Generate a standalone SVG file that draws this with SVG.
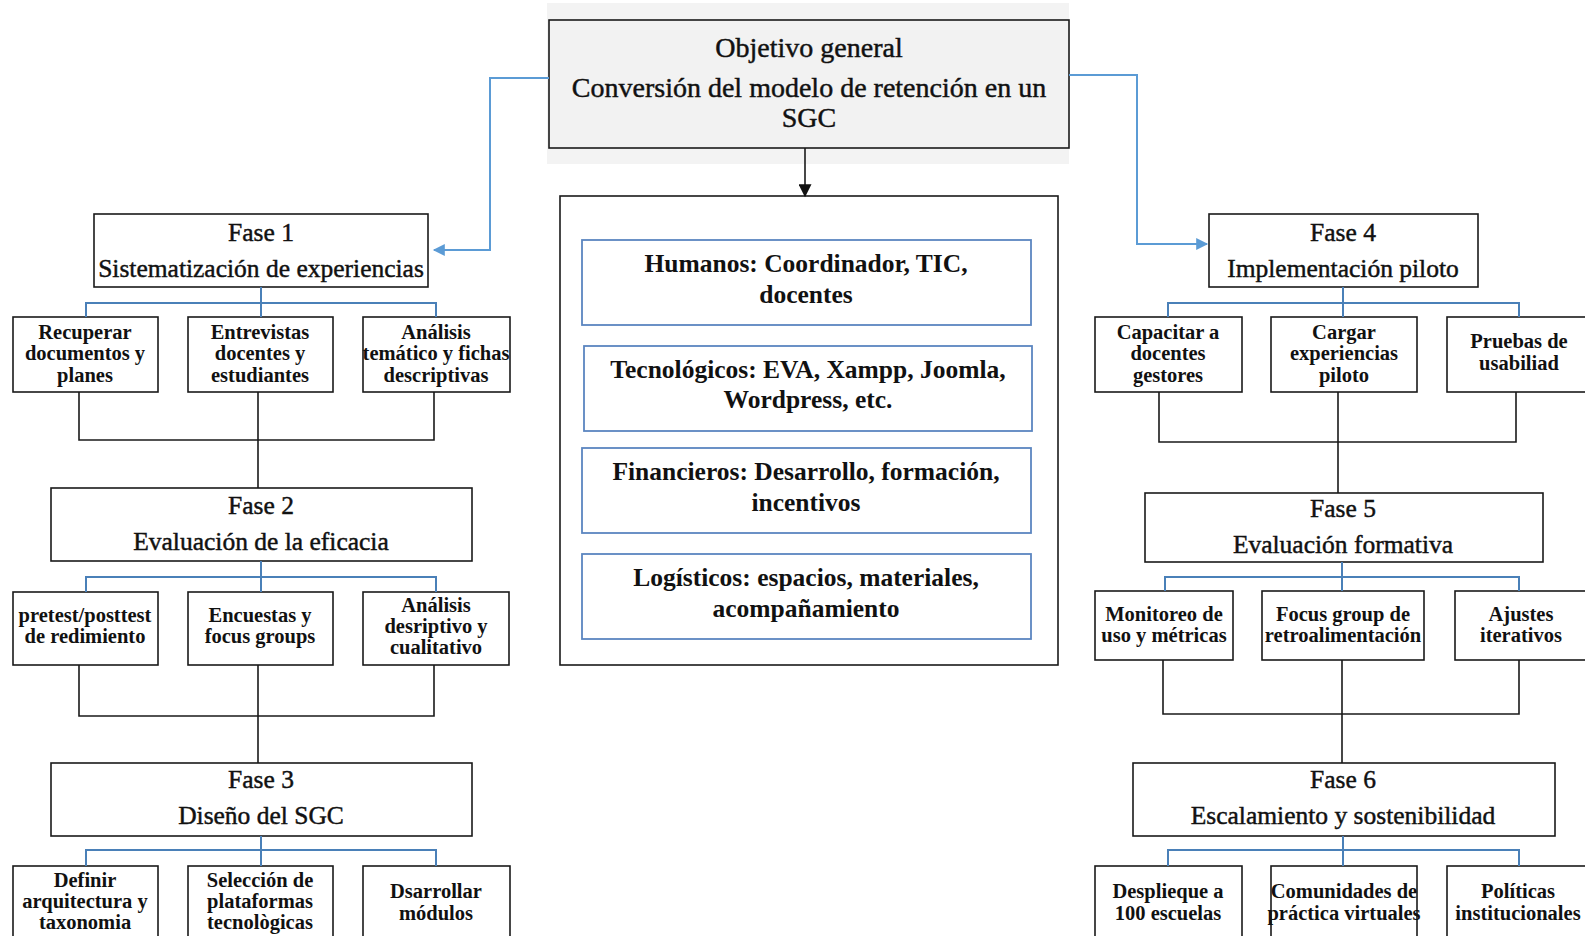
<svg xmlns="http://www.w3.org/2000/svg" width="1585" height="936" viewBox="0 0 1585 936">
<defs>
<style>
.bx{fill:#fff;stroke:#1a1a1a;stroke-width:1.6}
.rb{fill:#fff;stroke:#5b86c0;stroke-width:1.8}
.ph{font-family:"Liberation Serif","Times New Roman",serif;font-size:25.5px;fill:#111;text-anchor:middle;stroke:#111;stroke-width:0.45}
.mt{font-family:"Liberation Serif","Times New Roman",serif;font-size:28px;fill:#111;text-anchor:middle;stroke:#111;stroke-width:0.45}
.ch{font-family:"Liberation Serif","Times New Roman",serif;font-size:20.5px;font-weight:bold;fill:#111;text-anchor:middle}
.rs{font-family:"Liberation Serif","Times New Roman",serif;font-size:25.5px;font-weight:bold;fill:#111;text-anchor:middle}
.bl{fill:none;stroke:#4a80b8;stroke-width:2}
.ar{fill:none;stroke:#5b9bd5;stroke-width:2}
.bk{fill:none;stroke:#1a1a1a;stroke-width:1.6}
</style>
<marker id="ab" viewBox="0 0 10 10" refX="9" refY="5" markerWidth="14" markerHeight="13" markerUnits="userSpaceOnUse" orient="auto"><path d="M0,0 L10,5 L0,10 z" fill="#111"/></marker>
<marker id="au" viewBox="0 0 10 10" refX="9" refY="5" markerWidth="14" markerHeight="12" markerUnits="userSpaceOnUse" orient="auto"><path d="M0,0 L10,5 L0,10 z" fill="#5b9bd5"/></marker>
</defs>
<rect width="1585" height="936" fill="#fff"/>

<g id="objetivo">
<rect x="547" y="3" width="522" height="161" fill="#f3f3f3"/>
<rect x="549" y="20" width="520" height="128" fill="#f2f2f2" stroke="#1a1a1a" stroke-width="1.6"/>
<text class="mt" x="809" y="57">Objetivo general</text>
<text class="mt" x="809" y="97">Conversión del modelo de retención en un</text>
<text class="mt" x="809" y="127">SGC</text>
</g>

<g id="recursos">
<rect class="bx" x="560" y="196" width="498" height="469"/>
<rect class="rb" x="582" y="240" width="449" height="85"/>
<text class="rs" x="806" y="272">Humanos: Coordinador, TIC,</text>
<text class="rs" x="806" y="303">docentes</text>
<rect class="rb" x="584" y="346" width="448" height="85"/>
<text class="rs" x="808" y="378">Tecnológicos: EVA, Xampp, Joomla,</text>
<text class="rs" x="808" y="408">Wordpress, etc.</text>
<rect class="rb" x="582" y="448" width="449" height="85"/>
<text class="rs" x="806" y="480">Financieros: Desarrollo, formación,</text>
<text class="rs" x="806" y="511">incentivos</text>
<rect class="rb" x="582" y="554" width="449" height="85"/>
<text class="rs" x="806" y="586">Logísticos: espacios, materiales,</text>
<text class="rs" x="806" y="617">acompañamiento</text>
</g>

<g id="fase1">
<rect class="bx" x="94" y="214" width="334" height="73"/>
<text class="ph" x="261" y="241">Fase 1</text>
<text class="ph" x="261" y="277">Sistematización de experiencias</text>
</g>
<g id="f1c1"><rect class="bx" x="13" y="317" width="145" height="75"/>
<text class="ch" x="85" y="339">Recuperar</text><text class="ch" x="85" y="360">documentos y</text><text class="ch" x="85" y="382">planes</text></g>
<g id="f1c2"><rect class="bx" x="188" y="317" width="145" height="75"/>
<text class="ch" x="260" y="339">Entrevistas</text><text class="ch" x="260" y="360">docentes y</text><text class="ch" x="260" y="382">estudiantes</text></g>
<g id="f1c3"><rect class="bx" x="363" y="317" width="147" height="75"/>
<text class="ch" x="436" y="339">Análisis</text><text class="ch" x="436" y="360">temático y fichas</text><text class="ch" x="436" y="382">descriptivas</text></g>

<g id="fase2">
<rect class="bx" x="51" y="488" width="421" height="73"/>
<text class="ph" x="261" y="514">Fase 2</text>
<text class="ph" x="261" y="550">Evaluación de la eficacia</text>
</g>
<g id="f2c1"><rect class="bx" x="13" y="592" width="145" height="73"/>
<text class="ch" x="85" y="622">pretest/posttest</text><text class="ch" x="85" y="643">de redimiento</text></g>
<g id="f2c2"><rect class="bx" x="188" y="592" width="145" height="73"/>
<text class="ch" x="260" y="622">Encuestas y</text><text class="ch" x="260" y="643">focus groups</text></g>
<g id="f2c3"><rect class="bx" x="363" y="592" width="146" height="73"/>
<text class="ch" x="436" y="612">Análisis</text><text class="ch" x="436" y="633">desriptivo y</text><text class="ch" x="436" y="654">cualitativo</text></g>

<g id="fase3">
<rect class="bx" x="51" y="763" width="421" height="73"/>
<text class="ph" x="261" y="788">Fase 3</text>
<text class="ph" x="261" y="824">Diseño del SGC</text>
</g>
<g id="f3c1"><rect class="bx" x="13" y="866" width="145" height="80"/>
<text class="ch" x="85" y="887">Definir</text><text class="ch" x="85" y="908">arquitectura y</text><text class="ch" x="85" y="929">taxonomia</text></g>
<g id="f3c2"><rect class="bx" x="188" y="866" width="145" height="80"/>
<text class="ch" x="260" y="887">Selección de</text><text class="ch" x="260" y="908">plataformas</text><text class="ch" x="260" y="929">tecnològicas</text></g>
<g id="f3c3"><rect class="bx" x="363" y="866" width="147" height="80"/>
<text class="ch" x="436" y="898">Dsarrollar</text><text class="ch" x="436" y="920">módulos</text></g>

<g id="fase4">
<rect class="bx" x="1209" y="214" width="269" height="73"/>
<text class="ph" x="1343" y="241">Fase 4</text>
<text class="ph" x="1343" y="277">Implementación piloto</text>
</g>
<g id="f4c1"><rect class="bx" x="1095" y="317" width="147" height="75"/>
<text class="ch" x="1168" y="339">Capacitar a</text><text class="ch" x="1168" y="360">docentes</text><text class="ch" x="1168" y="382">gestores</text></g>
<g id="f4c2"><rect class="bx" x="1271" y="317" width="146" height="75"/>
<text class="ch" x="1344" y="339">Cargar</text><text class="ch" x="1344" y="360">experiencias</text><text class="ch" x="1344" y="382">piloto</text></g>
<g id="f4c3"><rect class="bx" x="1447" y="317" width="146" height="75"/>
<text class="ch" x="1519" y="348">Pruebas de</text><text class="ch" x="1519" y="370">usabiliad</text></g>

<g id="fase5">
<rect class="bx" x="1145" y="493" width="398" height="69"/>
<text class="ph" x="1343" y="517">Fase 5</text>
<text class="ph" x="1343" y="553">Evaluación formativa</text>
</g>
<g id="f5c1"><rect class="bx" x="1095" y="591" width="138" height="69"/>
<text class="ch" x="1164" y="621">Monitoreo de</text><text class="ch" x="1164" y="642">uso y métricas</text></g>
<g id="f5c2"><rect class="bx" x="1262" y="591" width="162" height="69"/>
<text class="ch" x="1343" y="621">Focus group de</text><text class="ch" x="1343" y="642">retroalimentación</text></g>
<g id="f5c3"><rect class="bx" x="1455" y="591" width="140" height="69"/>
<text class="ch" x="1521" y="621">Ajustes</text><text class="ch" x="1521" y="642">iterativos</text></g>

<g id="fase6">
<rect class="bx" x="1133" y="763" width="422" height="73"/>
<text class="ph" x="1343" y="788">Fase 6</text>
<text class="ph" x="1343" y="824">Escalamiento y sostenibilidad</text>
</g>
<g id="f6c1"><rect class="bx" x="1095" y="866" width="147" height="80"/>
<text class="ch" x="1168" y="898">Desplieque a</text><text class="ch" x="1168" y="920">100 escuelas</text></g>
<g id="f6c2"><rect class="bx" x="1271" y="866" width="146" height="80"/>
<text class="ch" x="1344" y="898">Comunidades de</text><text class="ch" x="1344" y="920">práctica virtuales</text></g>
<g id="f6c3"><rect class="bx" x="1447" y="866" width="146" height="80"/>
<text class="ch" x="1518" y="898">Políticas</text><text class="ch" x="1518" y="920">institucionales</text></g>

<g id="connectors">
<path class="ar" d="M549,78 H490 V250 H434" marker-end="url(#au)"/>
<path class="ar" d="M1069,75 H1137 V244 H1207" marker-end="url(#au)"/>
<path class="bk" d="M805,148 V196" marker-end="url(#ab)"/>
<path class="bl" d="M261,287 V303 M86,317 V303 H436 V317 M261,303 V317"/>
<path class="bk" d="M79,392 V440 H434 V392 M258,392 V488"/>
<path class="bl" d="M261,561 V577 M86,592 V577 H436 V592 M261,577 V592"/>
<path class="bk" d="M79,665 V716 H434 V665 M258,665 V763"/>
<path class="bl" d="M261,836 V850 M86,866 V850 H436 V866 M261,850 V866"/>
<path class="bl" d="M1343,287 V303 M1168,317 V303 H1519 V317 M1343,303 V317"/>
<path class="bk" d="M1159,392 V442 H1516 V392 M1338,392 V493"/>
<path class="bl" d="M1342,562 V577 M1165,591 V577 H1519 V591 M1342,577 V591"/>
<path class="bk" d="M1163,660 V714 H1519 V660 M1342,660 V763"/>
<path class="bl" d="M1343,836 V850 M1168,866 V850 H1519 V866 M1343,850 V866"/>
</g>
</svg>
